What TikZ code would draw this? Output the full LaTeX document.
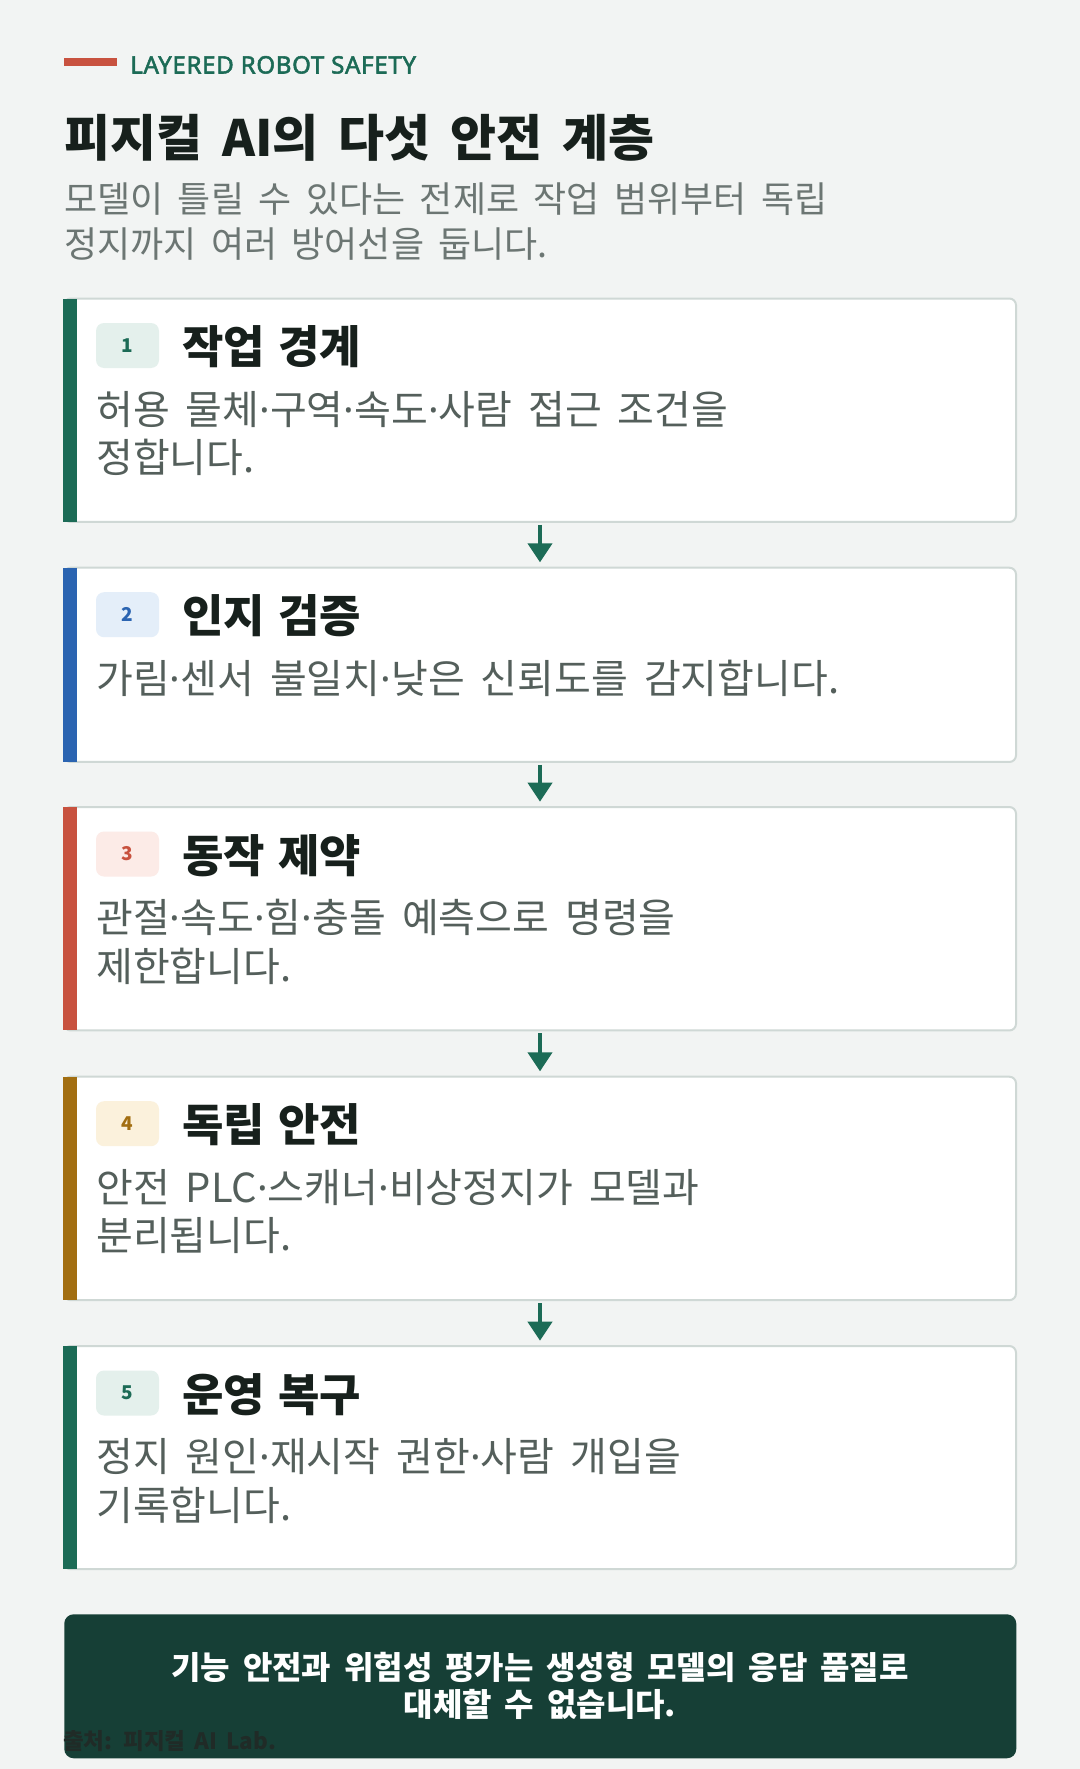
\documentclass[tikz,border=0pt]{standalone}
\usepackage{fontspec}
\setmainfont{Noto Sans CJK KR}
\newfontfamily\latf{Noto Sans}
\newfontfamily\kickf[FakeBold=2.2,LetterSpace=3]{Noto Sans}
\newcommand\mdot{{\latf ·}}
\newcommand\wsp{\spaceskip=0.4em\relax}
\newcommand\wst{\spaceskip=0.3em\relax}
\usetikzlibrary{arrows.meta}
\definecolor{bg}{HTML}{F2F4F3}
\definecolor{ink}{HTML}{17201C}
\definecolor{sub}{HTML}{6C7673}
\definecolor{desc}{HTML}{545F5B}
\definecolor{brd}{HTML}{CFD8D5}
\definecolor{gr}{HTML}{1C6B56}
\definecolor{grl}{HTML}{E4F0EC}
\definecolor{bl}{HTML}{2B64B1}
\definecolor{bll}{HTML}{E4EEF9}
\definecolor{rd}{HTML}{C8523F}
\definecolor{rdl}{HTML}{FCEBE7}
\definecolor{oc}{HTML}{A26E11}
\definecolor{ocl}{HTML}{FBF1DC}
\definecolor{dk}{HTML}{163F36}
\definecolor{src}{HTML}{202B27}
\tikzset{
  card/.style={draw=brd, line width=1.5pt, fill=white, rounded corners=5pt, rectangle, inner sep=0pt, outer sep=0pt, minimum width=714pt, anchor=north west},
  badge/.style={rectangle, rounded corners=6pt, minimum width=47.25pt, minimum height=33.75pt, inner sep=0pt, font=\bfseries\fontsize{14.25pt}{16pt}\selectfont},
  ttl/.style={anchor=base west, inner sep=0pt, text=ink, font=\bfseries\fontsize{33.75pt}{38pt}\selectfont\wst},
  dsc/.style={anchor=base west, inner sep=0pt, text=desc, font=\fontsize{30pt}{34pt}\selectfont\wsp},
  arr/.style={draw=gr, line width=3pt, -{Triangle[width=18pt,length=14.25pt]}}
}
\begin{document}
\begin{tikzpicture}[x=0.75pt,y=-0.75pt]
\useasboundingbox (0,0) rectangle (1080,1769);
\fill[bg] (0,0) rectangle (1080,1769);

% header
\fill[rd] (64,58) rectangle (117,66);
\node[anchor=base west, inner sep=0pt, text=gr, font=\kickf\fontsize{18pt}{20pt}\selectfont] (kicker) at (130,73.5) {LAYERED ROBOT SAFETY};
\node[anchor=base west, inner sep=0pt, text=ink, font=\bfseries\fontsize{37.5pt}{42pt}\selectfont\wsp] (head) at (64,157) {피지컬 AI의 다섯 안전 계층};
\node[anchor=base west, inner sep=0pt, text=sub, font=\fontsize{27pt}{30pt}\selectfont\wsp] (sub1) at (64,212.3) {모델이 틀릴 수 있다는 전제로 작업 범위부터 독립};
\node[anchor=base west, inner sep=0pt, text=sub, font=\fontsize{27pt}{30pt}\selectfont\wsp] (sub2) at (64,257.3) {정지까지 여러 방어선을 둡니다.};

% cards
\node[card, minimum height=167.6pt] (c1) at (64,298.5) {};
\node[card, minimum height=145.7pt] (c2) at (64,567.7) {};
\node[card, minimum height=167.6pt] (c3) at (64,807) {};
\node[card, minimum height=167.6pt] (c4) at (64,1076.7) {};
\node[card, minimum height=167.4pt] (c5) at (64,1346) {};

\fill[gr] ([xshift=-0.75pt]c1.north west) rectangle ([xshift=10.1pt]c1.south west);
\fill[bl] ([xshift=-0.75pt]c2.north west) rectangle ([xshift=10.1pt]c2.south west);
\fill[rd] ([xshift=-0.75pt]c3.north west) rectangle ([xshift=10.1pt]c3.south west);
\fill[oc] ([xshift=-0.75pt]c4.north west) rectangle ([xshift=10.1pt]c4.south west);
\fill[gr] ([xshift=-0.75pt]c5.north west) rectangle ([xshift=10.1pt]c5.south west);

% badges
\node[badge, fill=grl, text=gr] (b1) at (127.5,345.5) {1};
\node[badge, fill=bll, text=bl] (b2) at (127.5,614.7) {2};
\node[badge, fill=rdl, text=rd] (b3) at (127.5,854) {3};
\node[badge, fill=ocl, text=oc] (b4) at (127.5,1123.7) {4};
\node[badge, fill=grl, text=gr] (b5) at (127.5,1393) {5};

% titles
\node[ttl] (t1) at (182,363.5) {작업 경계};
\node[ttl] (t2) at (182,632.7) {인지 검증};
\node[ttl] (t3) at (182,872) {동작 제약};
\node[ttl] (t4) at (182,1141.7) {독립 안전};
\node[ttl] (t5) at (182,1411) {운영 복구};

% descriptions
\node[dsc] (d1a) at (96,424) {허용 물체\mdot 구역\mdot 속도\mdot 사람 접근 조건을};
\node[dsc] (d1b) at (96,472.5) {정합니다.};
\node[dsc] (d2a) at (96,693.3) {가림\mdot 센서 불일치\mdot 낮은 신뢰도를 감지합니다.};
\node[dsc] (d3a) at (96,932.6) {관절\mdot 속도\mdot 힘\mdot 충돌 예측으로 명령을};
\node[dsc] (d3b) at (96,981.1) {제한합니다.};
\node[dsc] (d4a) at (96,1202.3) {안전 PLC\mdot 스캐너\mdot 비상정지가 모델과};
\node[dsc] (d4b) at (96,1250.8) {분리됩니다.};
\node[dsc] (d5a) at (96,1471.6) {정지 원인\mdot 재시작 권한\mdot 사람 개입을};
\node[dsc] (d5b) at (96,1520.1) {기록합니다.};

% arrows
\draw[arr] ([yshift=-2.25pt]c1.south) -- ([yshift=4pt]c2.north);
\draw[arr] ([yshift=-2.25pt]c2.south) -- ([yshift=4pt]c3.north);
\draw[arr] ([yshift=-2.25pt]c3.south) -- ([yshift=4pt]c4.north);
\draw[arr] ([yshift=-2.25pt]c4.south) -- ([yshift=4pt]c5.north);

% bottom note
\node[rectangle, fill=dk, rounded corners=7pt, minimum width=714pt, minimum height=108pt, inner sep=0pt, anchor=north west] (note) at (64,1614) {};
\node[anchor=base, inner sep=0pt, text=white, font=\bfseries\fontsize{24pt}{28pt}\selectfont\wsp] (n1) at (540,1679.8) {기능 안전과 위험성 평가는 생성형 모델의 응답 품질로};
\node[anchor=base, inner sep=0pt, text=white, font=\bfseries\fontsize{24pt}{28pt}\selectfont\wsp] (n2) at (540,1716.8) {대체할 수 없습니다.};
\node[anchor=base west, inner sep=0pt, text=src, font=\bfseries\fontsize{16.9pt}{20pt}\selectfont\wsp] (source) at (63,1749.3) {출처: 피지컬 AI Lab.};
\end{tikzpicture}
\end{document}
